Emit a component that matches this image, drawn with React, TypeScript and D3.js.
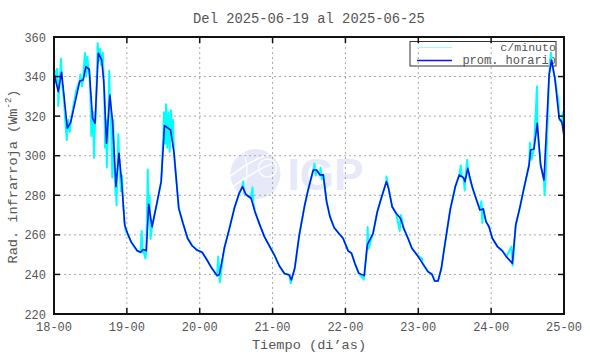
import * as d3 from 'd3'

// hours since 2025-06-18 00:00, hourly average (blue)
const hourlyAvg: [number, number][] = [
  [0, 341.6], [1.4, 332.4], [2.5, 342.2], [4.4, 313.9], [5.5, 316.9], [8.5, 337.8], [9.6, 338.3],
  [10.5, 345], [11.6, 343.7], [12.7, 318.9], [13.5, 316.4], [14.6, 351.8], [15.7, 348.4], [16.4, 337.4],
  [17.3, 306.3], [18.4, 330.7], [19.3, 317.2], [20.4, 284.4], [21.4, 301.2], [22.2, 288.6], [23.3, 265],
  [24.4, 260], [25.5, 256.2], [27.4, 252], [28.5, 251.2], [29.4, 252.6], [30.4, 252], [31.2, 275.4],
  [32.3, 264.1], [34, 276.8], [35.3, 286.9], [36.4, 315.2], [38.4, 313], [39.5, 302], [41.1, 273.4],
  [42.5, 265.8], [44, 258.3], [45.5, 254.5], [47.1, 252.3], [48.8, 251.2], [50.4, 247.3], [52, 243.1],
  [53.7, 239.4], [54.5, 240], [56.1, 253.2], [57.8, 263.3], [59.4, 273.4], [61, 281], [62.1, 284.4],
  [63.2, 280.5], [64.9, 278.5], [66.2, 271.7], [67.6, 265.8], [69.3, 259.1], [70.9, 254.5], [72.6, 249.8],
  [74.2, 244.4], [75.9, 240.5], [77.5, 239.7], [78.2, 237.2], [79.3, 243.1], [80.8, 260], [82.6, 275.1],
  [83.6, 282], [85.4, 292.8], [86.5, 292.8], [87.6, 290.3], [88.7, 290.3], [89.8, 276.8], [90.9, 269.2],
  [92.3, 263.6], [93.8, 260.8], [95.2, 258.3], [96.9, 251.9], [98, 250.7], [99.1, 245.6], [100.4, 240.6],
  [102.2, 239.4], [103.2, 254.9], [105.1, 260.8], [106.5, 271.7], [107.8, 278.5], [109.5, 286.9],
  [110.2, 283.5], [111.4, 274.2], [112.7, 270.9], [114.1, 268.4], [115.2, 263.3], [116.6, 258.3],
  [117.9, 253.2], [119.6, 249.8], [121.4, 245.6], [123.2, 241.4], [124.5, 240.1], [125.4, 236.7],
  [126.5, 236.7], [127.6, 243.1], [128.9, 256.6], [130.5, 272.6], [132.2, 284.4], [133.5, 290.3],
  [134.9, 288.9], [135.4, 286.9], [136.3, 293.6], [137.9, 283.5], [139, 278.5], [140.3, 272.6],
  [141.4, 273.1], [142.3, 266.7], [143.3, 264.1], [144.4, 258.3], [146.1, 254], [147.7, 251.9],
  [149, 249], [151, 245.6], [152.1, 265], [153.4, 273.4], [154.8, 283.5], [156.5, 295.3], [157, 302.9],
  [158.1, 303.4], [159.2, 316.4], [160.3, 295.3], [161.4, 287.7], [163.1, 340.8], [163.9, 348.4],
  [165, 339.1], [166.4, 318.9], [167.3, 316.9], [168, 310],
]

// per-minute excursions away from the hourly curve (cyan)
const minuteSpikes: [number, number][] = [
  [0.3, 343], [0.7, 337], [1, 344], [1.4, 325], [1.8, 336], [2.3, 349], [2.7, 336], [3.3, 328], [3.7, 318],
  [4.2, 308], [4.7, 318], [5.2, 312], [5.8, 320], [6.5, 326], [7.3, 333], [8, 336], [8.7, 341], [9.2, 335],
  [9.8, 344], [10.2, 352], [10.6, 340], [11, 350], [11.5, 342], [12, 330], [12.3, 310], [12.9, 322],
  [13.2, 299], [13.7, 318], [14.1, 340], [14.4, 357], [14.8, 348], [15.2, 354], [15.5, 346], [16.1, 352],
  [16.6, 332], [16.8, 304], [17.1, 318], [17.4, 294], [17.8, 312], [18.2, 343], [18.6, 326], [19, 305],
  [19.2, 289], [19.5, 318], [19.8, 297], [20.3, 280], [20.6, 275], [21, 300], [21.2, 311], [21.6, 296],
  [22, 282], [22.4, 290], [22.8, 275], [23.6, 262], [28.9, 262], [29.1, 251], [30.1, 248], [30.9, 293],
  [31.1, 268], [31.5, 280], [31.8, 258], [36, 310], [36.2, 322], [36.6, 306], [36.9, 326], [37.3, 304],
  [37.7, 322], [38.1, 302], [38.5, 323], [38.9, 310], [39.2, 318], [39.6, 300], [46, 254], [54.1, 249],
  [54.6, 236], [62.3, 287], [62.7, 281], [65.4, 284], [65.6, 277], [78, 235.5], [85.8, 296], [86.2, 290],
  [87.8, 294], [88.2, 288], [102, 237.5], [103.3, 264], [103.6, 253], [109.5, 289.5], [113.9, 262],
  [114.3, 270], [121.2, 248], [128.4, 252], [134, 295], [134.4, 289], [135.3, 282.5], [136.1, 298],
  [136.6, 290], [140.8, 277], [141.1, 266], [150.7, 254], [151.1, 244.5], [156.8, 306.5], [157.3, 298],
  [159.1, 335], [159.4, 310], [161.6, 280], [162, 290], [163.7, 352], [164.2, 345], [166.2, 327],
  [166.6, 318], [167.6, 322], [168, 303],
]

const yTicks = [220, 240, 260, 280, 300, 320, 340, 360]
const xTicks = [0, 24, 48, 72, 96, 120, 144, 168]
const xTickLabels = ['18-00', '19-00', '20-00', '21-00', '22-00', '23-00', '24-00', '25-00']
const title = 'Del 2025-06-19 al 2025-06-25'
const legendNames = ['c/minuto', 'prom. horario']

const W = 590
const H = 354
const margin = { top: 37, right: 26, bottom: 40, left: 54 }
const mono = '"Liberation Mono", "DejaVu Sans Mono", monospace'
const textColor = '#555'
const cyan = '#00ffff'
const blue = '#0a14f0'

export default function App() {
  const innerW = W - margin.left - margin.right
  const innerH = H - margin.top - margin.bottom
  const x = d3.scaleLinear().domain([0, 168]).range([0, innerW])
  const y = d3.scaleLinear().domain([220, 360]).range([innerH, 0])

  const minuteSeries = [...hourlyAvg, ...minuteSpikes].sort((a, b) => a[0] - b[0])
  const line = d3.line<[number, number]>().x(d => x(d[0])).y(d => y(d[1]))

  // watermark placement (plot-relative)
  const logoCx = innerW * 0.395
  const logoCy = innerH * 0.495
  const logoR = 25

  return (
    <svg width={W} height={H} style={{ position: 'fixed', left: 0, top: 0, background: '#fff' }}
      fontFamily={mono}>
      <text x={margin.left + innerW / 2} y={23} textAnchor="middle" fontSize={13.8} fill={textColor}>
        {title}
      </text>
      <g transform={`translate(${margin.left},${margin.top})`}>
        {/* watermark */}
        <g opacity={0.85}>
          <circle cx={logoCx} cy={logoCy} r={logoR} fill="#e3e5f7" />
          <path d={`M${logoCx - logoR} ${logoCy + 2} Q${logoCx - 5} ${logoCy - 14} ${logoCx + 14} ${logoCy - 20}`}
            fill="none" stroke="#fff" strokeWidth={1.5} />
          <path d={`M${logoCx - logoR + 3} ${logoCy + 12} Q${logoCx} ${logoCy - 4} ${logoCx + 20} ${logoCy - 12}`}
            fill="none" stroke="#fff" strokeWidth={1.5} />
          <path d={`M${logoCx - 12} ${logoCy - 22} Q${logoCx - 4} ${logoCy - 2} ${logoCx - 14} ${logoCy + 20}`}
            fill="none" stroke="#fff" strokeWidth={1.2} />
          <circle cx={logoCx + 12} cy={logoCy - 6} r={9} fill="none" stroke="#fff" strokeWidth={1.2} />
          <text x={logoCx + logoR + 7} y={logoCy + 16} fontFamily="'Liberation Sans', Arial, sans-serif"
            fontWeight="bold" fontSize={44} fill="#e3e5f7">IGP</text>
        </g>

        {/* grid */}
        {xTicks.slice(1, -1).map(t => (
          <line key={`gx${t}`} x1={x(t)} x2={x(t)} y1={0} y2={innerH}
            stroke="#a8a8a8" strokeWidth={1} strokeDasharray="2,3" />
        ))}
        {yTicks.slice(1, -1).map(t => (
          <line key={`gy${t}`} x1={0} x2={innerW} y1={y(t)} y2={y(t)}
            stroke="#a8a8a8" strokeWidth={1} strokeDasharray="2,3" />
        ))}

        {/* legend */}
        <rect x={356} y={4.5} width={146} height={24.5} fill="none" stroke="#333" strokeWidth={1} />
        <line x1={363} x2={398} y1={10.5} y2={10.5} stroke="#9ffcfc" strokeWidth={1} />
        <line x1={363} x2={398} y1={23.5} y2={23.5} stroke={blue} strokeWidth={1.4} />
        <text x={502} y={14} textAnchor="end" fontSize={11.6} fill={textColor}>{legendNames[0]}</text>
        <text x={502} y={27} textAnchor="end" fontSize={12} fill={textColor}>{legendNames[1]}</text>

        {/* data */}
        <path d={line(minuteSeries) ?? ''} fill="none" stroke={cyan} strokeWidth={2}
          strokeLinejoin="round" />
        <path d={line(hourlyAvg) ?? ''} fill="none" stroke={blue} strokeWidth={1.6}
          strokeLinejoin="round" />

        {/* ticks on all four sides */}
        {xTicks.map(t => (
          <g key={`tx${t}`}>
            <line x1={x(t)} x2={x(t)} y1={innerH} y2={innerH - 6} stroke="#111" strokeWidth={1.5} />
            <line x1={x(t)} x2={x(t)} y1={0} y2={6} stroke="#111" strokeWidth={1.5} />
          </g>
        ))}
        {yTicks.map(t => (
          <g key={`ty${t}`}>
            <line x1={0} x2={6} y1={y(t)} y2={y(t)} stroke="#111" strokeWidth={1.5} />
            <line x1={innerW} x2={innerW - 6} y1={y(t)} y2={y(t)} stroke="#111" strokeWidth={1.5} />
          </g>
        ))}
        <rect x={0} y={0} width={innerW} height={innerH} fill="none" stroke="#111" strokeWidth={2} />

        {/* tick labels */}
        {xTicks.map((t, i) => (
          <text key={`lx${t}`} x={x(t)} y={innerH + 17} textAnchor="middle" fontSize={12} fill={textColor}>
            {xTickLabels[i]}
          </text>
        ))}
        {yTicks.map(t => (
          <text key={`ly${t}`} x={-8} y={y(t) + 4.5} textAnchor="end" fontSize={12} fill={textColor}>
            {t}
          </text>
        ))}

        {/* axis titles */}
        <text x={innerW / 2} y={innerH + 35} textAnchor="middle" fontSize={13.6} fill={textColor}>
          Tiempo (di’as)
        </text>
        <text transform={`translate(${-37},${innerH / 2 + 1}) rotate(-90)`} textAnchor="middle"
          fontSize={13.6} fill={textColor}>
          Rad. infrarroja (Wm<tspan dy={-6} fontSize={9}>-2</tspan><tspan dy={6}>)</tspan>
        </text>
      </g>
    </svg>
  )
}
